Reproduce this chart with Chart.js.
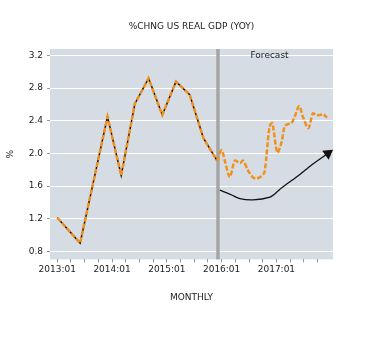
<!DOCTYPE html>
<html lang="en">
<head>
<meta charset="UTF-8" />
<title>%CHNG US REAL GDP (YOY)</title>
<style>
  html, body { margin: 0; padding: 0; background: #fff; }
  #wrap { width: 369px; height: 338px; }
</style>
</head>
<body>
<div id="wrap"><canvas id="gdpChart" width="369" height="338"></canvas></div>

<script src="https://cdn.jsdelivr.net/npm/chart.js"></script>
<script>
  // x values are months counted from 2013:01 (0 = 2013:01, 12 = 2014:01 ...)
  const histMonths = [0, 5, 11, 14, 17, 20, 23, 26, 29, 32, 35];
  const histValues = [1.21, 0.90, 2.45, 1.73, 2.61, 2.92, 2.47, 2.88, 2.72, 2.19, 1.91];

  // model path (orange dashed) after the actuals end
  const fitMonths = [35, 36, 36.7, 37.8, 38.9, 40, 40.7, 41.8, 42.8, 43.6, 44.7, 45.4, 46.5, 47.1,
                     48.2, 49.1, 49.8, 50.5, 51.3, 52, 53, 53.8, 55, 56, 56.7, 57.5, 58.2, 59.1];
  const fitValues = [1.91, 2.04, 1.91, 1.71, 1.91, 1.88, 1.91, 1.79, 1.71, 1.69, 1.72, 1.77, 2.33, 2.37,
                     2.01, 2.13, 2.33, 2.36, 2.37, 2.45, 2.58, 2.45, 2.31, 2.49, 2.47, 2.47, 2.48, 2.44];

  // forecast (black line with arrow)
  const projMonths = [35.6, 38.2, 40, 42.9, 46.6, 48, 49.1, 52.4, 56, 59.3];
  const projValues = [1.55, 1.49, 1.445, 1.43, 1.465, 1.52, 1.575, 1.71, 1.87, 2.00];

  const forecastStart = 35.2;
  const yearLabels = ['2013:01', '2014:01', '2015:01', '2016:01', '2017:01'];
  const chartTitle = '%CHNG US REAL GDP (YOY)';

  const FONT = 'DejaVu Sans';
  const txt = '#222222';
  const toPts = (xs, ys) => xs.map((x, i) => ({ x: x, y: ys[i] }));

  const plotBackground = {
    id: 'plotBackground',
    beforeDraw(chart) {
      const { ctx, chartArea: a } = chart;
      ctx.save();
      ctx.fillStyle = '#d6dce4';
      ctx.fillRect(a.left, a.top, a.right - a.left, a.bottom - a.top);
      // title centred over the plot area
      ctx.fillStyle = txt;
      ctx.font = '9px "' + FONT + '"';
      ctx.textAlign = 'center';
      ctx.textBaseline = 'middle';
      ctx.fillText(chartTitle, (a.left + a.right) / 2, a.top - 22);
      ctx.restore();
    }
  };

  const forecastMarker = {
    id: 'forecastMarker',
    beforeDatasetsDraw(chart) {
      const { ctx, chartArea: a, scales } = chart;
      const x = scales.x.getPixelForValue(forecastStart);
      ctx.save();
      ctx.strokeStyle = '#a5a5a5';
      ctx.lineWidth = 3.5;
      ctx.beginPath();
      ctx.moveTo(x, a.top);
      ctx.lineTo(x, a.bottom);
      ctx.stroke();
      ctx.fillStyle = txt;
      ctx.font = '9px "' + FONT + '"';
      ctx.textAlign = 'center';
      ctx.textBaseline = 'middle';
      ctx.fillText('Forecast', scales.x.getPixelForValue(46.5), scales.y.getPixelForValue(3.2));
      ctx.restore();
    }
  };

  const projPts = toPts(projMonths, projValues);
  const arrowRadius = projPts.map((p, i) => i === projPts.length - 1 ? 5 : 0);

  new Chart(document.getElementById('gdpChart'), {
    type: 'line',
    data: {
      datasets: [
        {
          label: 'Model',
          data: toPts(histMonths, histValues),
          borderColor: '#f0901e',
          borderWidth: 2.5,
          borderDash: [5, 2],
          pointRadius: 0,
          tension: 0
        },
        {
          label: 'Model forecast',
          data: toPts(fitMonths, fitValues),
          borderColor: '#f0901e',
          borderWidth: 2.5,
          borderDash: [5, 2],
          pointRadius: 0,
          tension: 0.3
        },
        {
          label: 'Actual',
          data: toPts(histMonths, histValues),
          borderColor: '#111111',
          borderWidth: 1.5,
          pointRadius: 0,
          tension: 0
        },
        {
          label: 'Forecast',
          data: projPts,
          borderColor: '#111111',
          backgroundColor: '#111111',
          borderWidth: 1.3,
          pointStyle: 'triangle',
          pointRadius: arrowRadius,
          pointRotation: 54,
          tension: 0.3
        }
      ]
    },
    options: {
      responsive: false,
      animation: false,
      layout: { padding: { top: 49, left: 5, right: 36, bottom: 35 } },
      plugins: {
        legend: { display: false },
        tooltip: { enabled: false },
        title: { display: false }
      },
      scales: {
        x: {
          type: 'linear',
          min: -1.6,
          max: 60.4,
          border: { display: false },
          grid: { drawOnChartArea: false, drawTicks: true, tickLength: 3, tickColor: '#999999' },
          afterBuildTicks(scale) { scale.ticks = scale.ticks.filter(t => t.value < 60); },
          ticks: {
            stepSize: 3,
            includeBounds: false,
            autoSkip: false,
            maxRotation: 0,
            padding: 2,
            color: txt,
            font: { family: FONT, size: 9 },
            callback: v => (v % 12 === 0 && v / 12 < yearLabels.length) ? yearLabels[v / 12] : ''
          },
          title: {
            display: true,
            text: 'MONTHLY',
            color: txt,
            font: { family: FONT, size: 9 },
            padding: { top: 15, bottom: 0 }
          }
        },
        y: {
          min: 0.7,
          max: 3.28,
          border: { display: false },
          grid: { color: '#ffffff', lineWidth: 1, tickLength: 3, tickColor: '#999999' },
          ticks: {
            stepSize: 0.4,
            includeBounds: false,
            padding: 4,
            color: txt,
            font: { family: FONT, size: 9 },
            callback: v => v.toFixed(1)
          },
          title: {
            display: true,
            text: '%',
            color: txt,
            font: { family: FONT, size: 9 },
            padding: 0
          },
          afterFit(scale) { scale.width = 45; }
        }
      }
    },
    plugins: [plotBackground, forecastMarker]
  });
</script>
</body>
</html>
